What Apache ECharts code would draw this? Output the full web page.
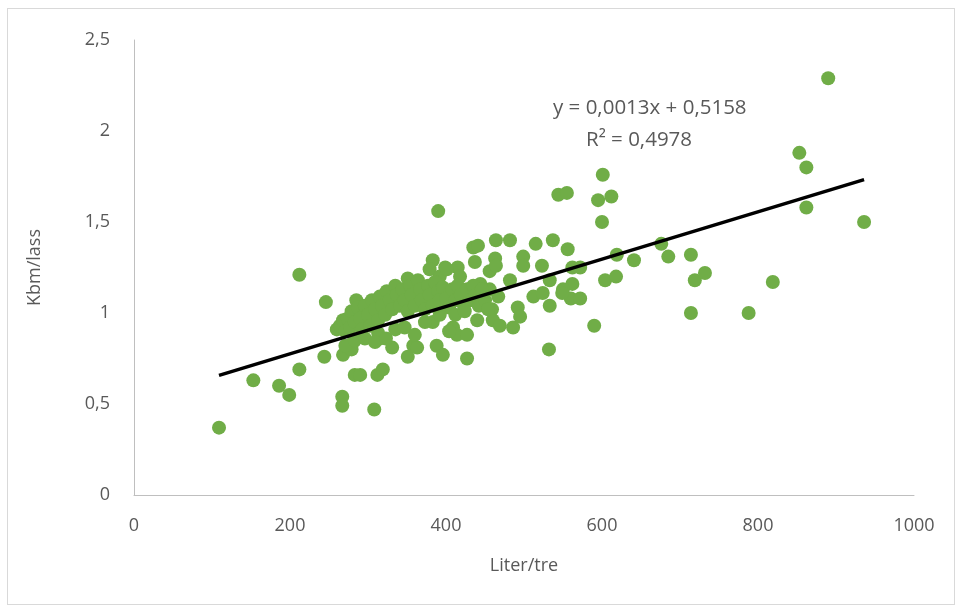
<!DOCTYPE html>
<html>
<head>
<meta charset="utf-8">
<script src="https://cdn.jsdelivr.net/npm/echarts@6/dist/echarts.min.js"></script>
<style>
html,body{margin:0;padding:0;background:#fff;}
#frame{position:absolute;left:7px;top:8px;width:946px;height:595px;border:1px solid #d9d9d9;}
#chart{position:absolute;left:0;top:0;width:957px;height:607px;}
</style>
</head>
<body>
<div id="frame"></div>
<div id="chart"></div>
<script>
// Data: Liter/tre (x) and Kbm/lass (y)
const literTre = [
 109,153,186,199,212,212,246,244,267,267,268,285,283,290,308,312,319,390,427,532,
 544,555,601,595,612,600,590,556,537,515,604,618,619,641,676,685,714,719,732,714,
 788,819,853,862,862,890,936,562,572,562,550,560,572,464,482,435,441,437,499,499,
 523,383,351,399,415,379,392,401,418,456,482,533,512,524,533,549,492,495,486,459,
 460,469,440,383,409,414,427,388,396,358,351,315,331,313,319,404,463,464,467,456,
 444,363,279,281,
 260,264,268,271,274,277,279,283,287,290,292,296,300,303,305,309,313,315,318,322,
 324,328,331,335,337,341,344,347,351,354,356,360,364,367,369,373,377,379,383,386,
 390,392,396,400,404,408,412,415,419,423,427,431,435,438,442,446,450,454,
 271,283,296,309,323,335,347,360,373,392,412,424
];
const kbmLass = [
 0.37,0.63,0.60,0.55,0.69,1.21,1.06,0.76,0.54,0.49,0.77,1.07,0.66,0.66,0.47,0.66,0.69,1.56,0.75,0.80,
 1.65,1.66,1.76,1.62,1.64,1.50,0.93,1.35,1.40,1.38,1.18,1.20,1.32,1.29,1.38,1.31,1.32,1.18,1.22,1.00,
 1.00,1.17,1.88,1.80,1.58,2.29,1.50,1.25,1.25,1.16,1.13,1.08,1.08,1.40,1.40,1.36,1.37,1.28,1.31,1.26,
 1.26,1.29,1.19,1.25,1.25,1.24,1.20,1.24,1.20,1.23,1.18,1.18,1.09,1.11,1.04,1.11,1.03,0.98,0.92,1.02,
 0.96,0.93,0.96,0.95,0.92,0.88,0.88,0.82,0.77,0.82,0.76,0.86,0.81,0.89,1.03,0.90,1.30,1.26,1.09,1.13,
 1.16,0.81,0.80,0.84,
 0.91,0.93,0.96,0.90,0.97,0.92,1.01,0.95,1.03,0.97,0.91,1.04,0.99,0.93,1.07,1.02,0.96,1.09,1.04,0.99,
 1.12,1.07,1.02,1.15,1.10,1.04,1.13,1.07,1.01,1.15,1.10,1.04,1.18,1.13,1.07,1.02,1.15,1.10,1.04,1.17,
 1.12,1.07,1.14,1.08,1.03,1.13,1.07,1.15,1.10,1.04,1.13,1.07,1.15,1.10,1.04,1.13,1.07,1.02,
 0.82,0.85,0.86,0.84,0.86,0.91,0.92,0.88,0.95,0.99,0.99,1.01
];
const trendSlope = 0.0013;
const trendIntercept = 0.5158;
const trendRange = [109, 936];
const xTicks = [0, 200, 400, 600, 800, 1000];
const yTicks = [0, 0.5, 1, 1.5, 2, 2.5];
const equationText = 'y = 0,0013x + 0,5158';
const r2Text = 'R² = 0,4978';

const points = literTre.map((x, i) => [x, kbmLass[i]]);
const trendData = trendRange.map(x => [x, trendSlope * x + trendIntercept]);

const fontFam = '"Open Sans", "Noto Sans", sans-serif';
const txtColor = '#595959';
const chart = echarts.init(document.getElementById('chart'));
chart.setOption({
  animation: false,
  grid: {left: 134, right: 43, top: 40, bottom: 112},
  xAxis: {
    type: 'value', min: xTicks[0], max: xTicks[xTicks.length - 1], interval: 200,
    name: 'Liter/tre', nameLocation: 'middle', nameGap: 62,
    nameTextStyle: {color: txtColor, fontSize: 18, fontFamily: fontFam},
    axisLine: {show: true, lineStyle: {color: '#bfbfbf', width: 1}},
    axisTick: {show: false},
    splitLine: {show: false},
    axisLabel: {color: txtColor, fontSize: 18, fontFamily: fontFam, margin: 22,
      formatter: v => String(v)}
  },
  yAxis: {
    type: 'value', min: yTicks[0], max: yTicks[yTicks.length - 1], interval: 0.5,
    name: 'Kbm/lass', nameLocation: 'middle', nameGap: 90, nameRotate: 90,
    nameTextStyle: {color: txtColor, fontSize: 18, fontFamily: fontFam},
    axisLine: {show: true, lineStyle: {color: '#bfbfbf', width: 1}},
    axisTick: {show: false},
    splitLine: {show: false},
    axisLabel: {color: txtColor, fontSize: 18, fontFamily: fontFam, margin: 24,
      formatter: v => String(v).replace('.', ',')}
  },
  series: [
    {
      type: 'scatter', data: points, symbolSize: 14,
      itemStyle: {color: '#70ad47', opacity: 1}, z: 2
    },
    {
      type: 'line', data: trendData, symbol: 'none',
      lineStyle: {color: '#000000', width: 3.5}, z: 3
    }
  ],
  graphic: [
    {type: 'text', left: 553, top: 98, style: {text: equationText, fill: txtColor, font: '20.5px ' + fontFam}},
    {type: 'text', left: 586, top: 130, style: {text: r2Text, fill: txtColor, font: '20.5px ' + fontFam}}
  ]
});
</script>
</body>
</html>
